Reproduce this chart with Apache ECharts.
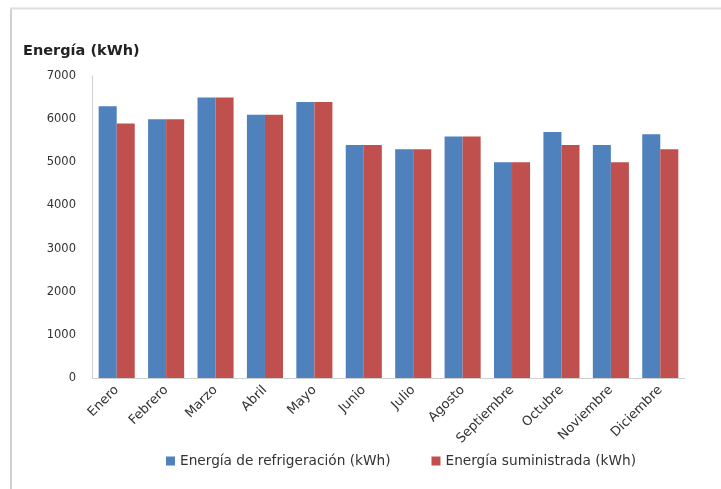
<!DOCTYPE html>
<html>
<head>
<meta charset="utf-8">
<script src="https://cdn.jsdelivr.net/npm/echarts@6/dist/echarts.min.js"></script>
<style>html,body{margin:0;padding:0;background:#fff;}#c{width:721px;height:489px;}</style>
</head>
<body>
<div id="c"></div>
<script>
const months = ['Enero','Febrero','Marzo','Abril','Mayo','Junio','Julio','Agosto','Septiembre','Octubre','Noviembre','Diciembre'];
const refrigeracion = [6300,6000,6500,6100,6400,5400,5300,5600,5000,5700,5400,5650];
const suministrada = [5900,6000,6500,6100,6400,5400,5300,5600,5000,5400,5000,5300];
const yTicks = [0,1000,2000,3000,4000,5000,6000,7000];
const seriesNames = ['Energía de refrigeración (kWh)','Energía suministrada (kWh)'];

const chart = echarts.init(document.getElementById('c'), null, {renderer:'canvas'});
chart.setOption({
  animation:false,
  backgroundColor:'#fff',
  color:['#4F81BD','#C0504D'],
  title:{text:'Energía (kWh)', left:18, top:39, textStyle:{fontFamily:'DejaVu Sans', fontWeight:'bold', fontSize:14.5, color:'#222'}},
  graphic:[
    {type:'line', shape:{x1:11, y1:8, x2:11, y2:489}, style:{stroke:'#d0d0d0', lineWidth:2}},
    {type:'line', shape:{x1:10, y1:8.5, x2:721, y2:8.5}, style:{stroke:'#dedede', lineWidth:2}}
  ],
  grid:{left:92, right:36, top:76, bottom:111, containLabel:false},
  legend:{top:449, left:161, itemWidth:9, itemHeight:9, itemGap:41, icon:'rect',
    textStyle:{fontFamily:'DejaVu Sans', fontSize:13.7, color:'#333'}, data:seriesNames},
  xAxis:{type:'category', data:months,
    axisLine:{lineStyle:{color:'#d0d0d0', width:1}}, axisTick:{show:false},
    axisLabel:{rotate:45, interval:0, fontFamily:'DejaVu Sans', fontSize:13, color:'#333', margin:10}},
  yAxis:{type:'value', min:yTicks[0], max:yTicks[yTicks.length-1], interval:1000,
    axisLine:{show:true, lineStyle:{color:'#d0d0d0'}}, axisTick:{show:false}, splitLine:{show:false},
    axisLabel:{fontFamily:'DejaVu Sans', fontSize:11.5, color:'#333', margin:16, formatter:v=>String(v)}},
  series:[
    {name:seriesNames[0], type:'bar', data:refrigeracion, barGap:'0%', barCategoryGap:'27%'},
    {name:seriesNames[1], type:'bar', data:suministrada, barGap:'0%', barCategoryGap:'27%'}
  ]
});
</script>
</body>
</html>
